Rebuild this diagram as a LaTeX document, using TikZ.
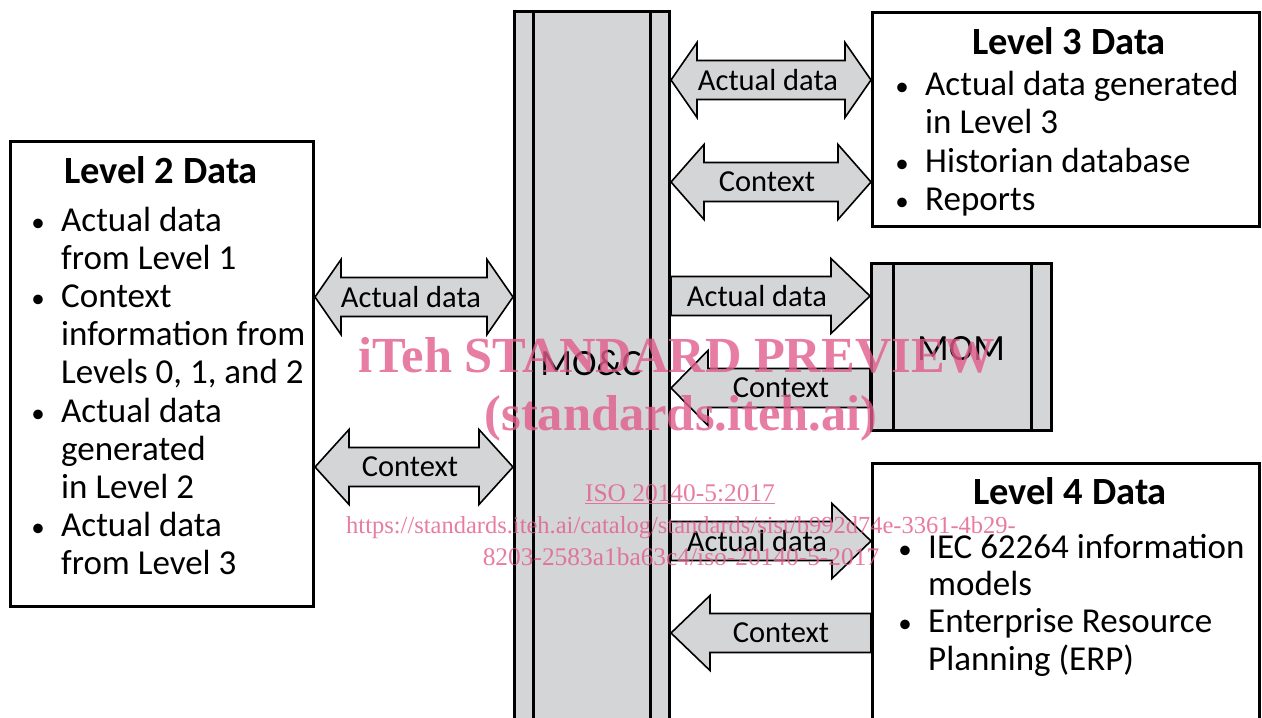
\documentclass[tikz,border=0pt]{standalone}
\usepackage{fontspec}
\setmainfont{Carlito}
\newfontfamily\wmfont{Liberation Serif}
\usetikzlibrary{calc, backgrounds}
\definecolor{boxgray}{RGB}{212,213,215}
\definecolor{wmpink}{RGB}{226,92,140}
\newcommand{\bitem}{\llap{\makebox[46pt][c]{\fontsize{27}{27}\selectfont\textbullet}}}
\newcommand{\arrhead}{37.5}
\newcommand{\arrshaft}{19.5}
% block arrows: #1 tip, #2 tip, #3 head length
\newcommand{\dblarrow}[3]{\draw[block arrow] (#1) -- ++(#3,-\arrhead) -- ++(0,{\arrhead-\arrshaft}) -- ($(#2)+({-(#3)},-\arrshaft)$) -- ++(0,{\arrshaft-\arrhead}) -- (#2) -- ++({-(#3)},\arrhead) -- ++(0,{\arrshaft-\arrhead}) -- ($(#1)+(#3,\arrshaft)$) -- ++(0,{\arrhead-\arrshaft}) -- cycle;}
% #1 tail, #2 tip, #3 signed head length
\newcommand{\sglarrow}[3]{\draw[block arrow] ($(#1)+(0,-\arrshaft)$) -- ($(#2)+({-(#3)},-\arrshaft)$) -- ++(0,{\arrshaft-\arrhead}) -- (#2) -- ++({-(#3)},\arrhead) -- ++(0,{\arrshaft-\arrhead}) -- ($(#1)+(0,\arrshaft)$) -- cycle;}

\begin{document}
\begin{tikzpicture}[x=1pt, y=-1pt]
    \tikzset{
        data box/.style={draw, line width=3pt, fill=white, inner sep=0pt},
        bar box/.style={draw, line width=3pt, fill=boxgray, inner sep=0pt},
        block arrow/.style={draw, line width=1.6pt, fill=boxgray, line join=miter},
        box title/.style={font=\fontsize{38.5}{42}\selectfont\bfseries, anchor=base, inner sep=0pt},
        box list/.style={font=\fontsize{35}{38.4}\selectfont, anchor=base west, inner sep=0pt},
        arrow label/.style={font=\fontsize{30.5}{36}\selectfont, inner sep=0pt},
        bar label/.style={font=\fontsize{37}{40}\selectfont, anchor=base, inner sep=0pt},
        watermark/.style={text=wmpink, text opacity=0.8, anchor=base, inner sep=0pt, font=\wmfont\fontsize{25.4}{28}\selectfont}
    }
    \useasboundingbox (0,0) rectangle (1262,718);

    % MO&C
    \node[bar box, minimum width=155, minimum height=800] (moc) at (592,411.5) {};
    \draw[line width=3pt] ([xshift=20]moc.north west) -- ([xshift=20]moc.south west);
    \draw[line width=3pt] ([xshift=-21]moc.north east) -- ([xshift=-21]moc.south east);
    \node[bar label] (moclabel) at (591,375) {MO\&C};

    % MOM
    \node[bar box, minimum width=180, minimum height=167] (mom) at (961.5,347) {};
    \draw[line width=3pt] ([xshift=23]mom.north west) -- ([xshift=23]mom.south west);
    \draw[line width=3pt] ([xshift=-22]mom.north east) -- ([xshift=-22]mom.south east);
    \node[bar label] (momlabel) at (961,360) {MOM};

    % Level 2
    \node[data box, minimum width=303, minimum height=465] (lvl2) at (162,374) {};
    \node[box title] (lvl2title) at (161,183) {Level 2 Data};
    \node[box list, font=\fontsize{35}{38.2}\selectfont] (lvl2list) at (61,231) {\begin{tabular}[t]{@{}l@{}}
        \bitem Actual data\\
        from Level 1\\
        \bitem Context\\
        information from\\
        Levels 0, 1, and 2\\
        \bitem Actual data\\
        generated\\
        in Level 2\\
        \bitem Actual data\\
        from Level 3
    \end{tabular}};

    % Level 3
    \node[data box, minimum width=387, minimum height=214] (lvl3) at (1066,119.5) {};
    \node[box title] (lvl3title) at (1069,54) {Level 3 Data};
    \node[box list, font=\fontsize{35}{38.6}\selectfont] (lvl3list) at (925,95) {\begin{tabular}[t]{@{}l@{}}
        \bitem Actual data generated\\
        in Level 3\\
        \bitem Historian database\\
        \bitem Reports
    \end{tabular}};

    % Level 4
    \node[data box, minimum width=387, minimum height=336.5] (lvl4) at (1066,631.75) {};
    \node[box title] (lvl4title) at (1070,504) {Level 4 Data};
    \node[box list, font=\fontsize{35}{37.4}\selectfont] (lvl4list) at (928,558) {\begin{tabular}[t]{@{}l@{}}
        \bitem IEC 62264 information\\
        models\\
        \bitem Enterprise Resource\\
        Planning (ERP)
    \end{tabular}};

    % arrow labels
    \node[arrow label] (l2act) at (411,297) {Actual data};
    \node[arrow label] (l2ctx) at (410,467) {Context};
    \node[arrow label] (l3act) at (768,80) {Actual data};
    \node[arrow label] (l3ctx) at (767,182) {Context};
    \node[arrow label] (momact) at (757,296) {Actual data};
    \node[arrow label] (momctx) at (781,388) {Context};
    \node[arrow label] (l4act) at (757,541) {Actual data};
    \node[arrow label] (l4ctx) at (781,633) {Context};

    % arrows
    \begin{scope}[on background layer]
        \dblarrow{lvl2.east |- l2act}{moc.west |- l2act}{26}
        \dblarrow{lvl2.east |- l2ctx}{moc.west |- l2ctx}{34}
        \dblarrow{moc.east |- l3act}{lvl3.west |- l3act}{26}
        \dblarrow{moc.east |- l3ctx}{lvl3.west |- l3ctx}{33}
        \sglarrow{moc.east |- momact}{mom.west |- momact}{39}
        \sglarrow{mom.west |- momctx}{moc.east |- momctx}{-37}
        \sglarrow{moc.east |- l4act}{lvl4.west |- l4act}{39}
        \sglarrow{lvl4.west |- l4ctx}{moc.east |- l4ctx}{-39}
    \end{scope}

    % watermark
    \node[watermark, font=\wmfont\bfseries\fontsize{50.5}{52}\selectfont] (wmtitle) at (677,372) {iTeh STANDARD PREVIEW};
    \node[watermark, font=\wmfont\bfseries\fontsize{50.5}{52}\selectfont] (wmsite) at (681,430) {(standards.iteh.ai)};
    \node[watermark] (wmiso) at (680,501) {\underline{ISO 20140-5:2017}};
    \node[watermark, font=\wmfont\fontsize{24.5}{28}\selectfont] (wmurl) at (681,533) {https://standards.iteh.ai/catalog/standards/sist/b992d74e-3361-4b29-};
    \node[watermark] (wmurlb) at (681,565) {8203-2583a1ba63c4/iso-20140-5-2017};
\end{tikzpicture}
\end{document}
